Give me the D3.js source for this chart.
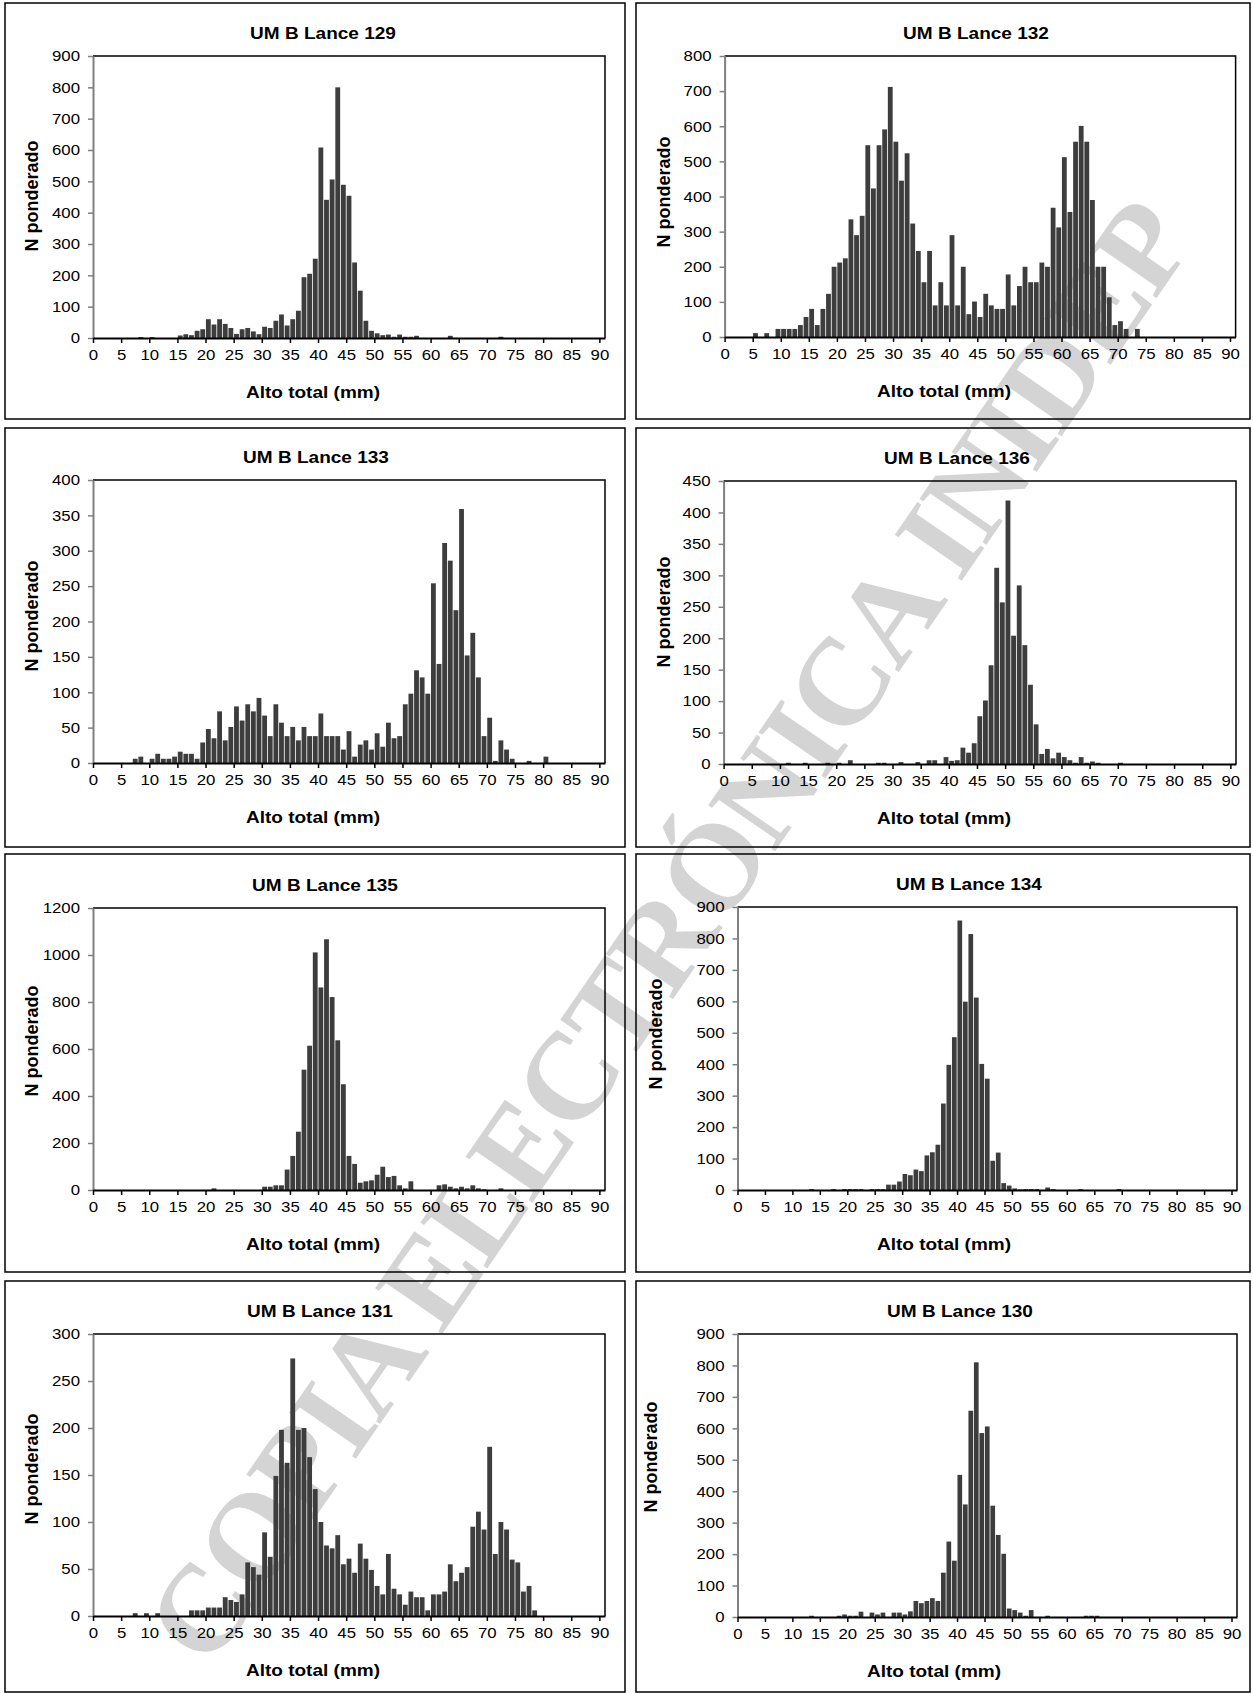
<!DOCTYPE html>
<html>
<head>
<meta charset="utf-8">
<script src="https://cdn.jsdelivr.net/npm/d3@7"></script>
<style>
  body { margin: 0; background: #fff; }
  svg { display: block; }
</style>
</head>
<body>
<div id="chart"></div>
<script>
const width = 1253;
const height = 1694;

// N ponderado per 1 mm class of "Alto total", index = mm (0..90)
const lance129 = [
  0,0,0,0,0,0,0,0,3,0,
  3,0,0,0,0,8,12,9,23,28,
  60,43,60,45,32,13,28,32,21,12,
  36,32,55,75,40,60,87,194,205,253,
  608,441,506,800,489,454,241,151,55,23,
  15,9,11,4,11,4,4,7,0,0,
  0,0,0,7,0,0,0,0,0,0,
  0,0,4,0,0,0,0,0,0,0,
  0,0,0,0,0,0,0,0,0,0,0
];
const lance132 = [
  0,0,0,0,0,11,0,11,0,23,
  23,23,23,34,57,80,34,80,123,200,
  212,224,335,290,345,546,423,546,591,712,
  556,445,523,323,245,156,245,90,156,90,
  290,90,200,65,101,57,123,90,80,80,
  178,90,145,200,156,156,212,200,368,312,
  512,356,556,601,556,390,200,200,113,34,
  45,23,0,23,0,0,0,0,0,0,
  0,0,0,0,0,0,0,0,0,0,0
];
const lance133 = [
  0,0,0,0,0,0,0,6,9,0,
  6,13,6,6,9,16,13,13,6,29,
  48,35,73,32,51,80,60,83,73,92,
  67,38,83,57,38,51,32,51,38,38,
  70,38,38,38,19,45,9,26,32,19,
  42,23,57,35,38,83,98,131,121,98,
  254,140,311,286,216,359,152,184,121,38,
  64,3,32,19,6,0,0,3,0,0,
  9,0,0,0,0,0,0,0,0,0,0
];
const lance136 = [
  0,0,0,0,0,0,0,0,0,0,
  0,2,0,0,2,0,0,0,2,0,
  2,0,6,0,0,0,0,2,2,0,
  0,3,0,0,3,0,6,6,0,11,
  5,6,26,18,33,76,101,157,312,257,
  419,204,284,189,126,63,16,24,9,18,
  11,6,2,11,2,4,2,0,0,0,
  2,0,0,0,0,0,0,0,0,0,
  0,0,0,0,0,0,0,0,0,0,0
];
const lance135 = [
  0,0,0,0,0,0,0,0,0,0,
  0,0,0,0,0,0,0,0,0,0,
  0,7,0,0,0,0,0,0,0,0,
  14,14,20,20,87,145,248,512,614,1011,
  862,1067,821,637,450,145,111,31,37,41,
  65,99,55,60,20,7,37,0,0,0,
  0,20,24,14,7,14,7,20,7,3,
  0,0,7,0,0,0,0,0,0,0,
  0,0,0,0,0,0,0,0,0,0,0
];
const lance134 = [
  0,0,0,0,0,0,0,0,0,0,
  0,0,0,3,0,0,0,3,0,3,
  3,3,3,0,3,3,3,17,17,27,
  51,47,65,60,110,120,144,275,398,486,
  857,599,814,612,401,354,93,119,22,14,
  5,2,3,3,3,0,8,3,0,0,
  0,0,3,0,0,0,0,0,0,3,
  0,0,0,0,0,0,0,0,0,0,
  0,0,0,0,0,0,0,0,0,0,0
];
const lance131 = [
  0,0,0,0,0,0,0,3,0,3,
  0,3,0,0,0,0,0,6,6,6,
  9,9,9,20,17,15,23,57,52,44,
  89,63,149,198,163,274,198,200,169,135,
  100,75,72,86,55,61,46,77,61,49,
  32,23,66,29,23,12,26,20,20,6,
  23,23,26,55,37,46,52,95,111,92,
  180,66,100,92,60,57,26,32,6,0,
  0,0,0,0,0,0,0,0,0,0,0
];
const lance130 = [
  0,0,0,0,0,0,0,0,0,0,
  0,0,0,4,0,0,0,0,4,8,
  4,4,17,0,14,8,14,0,14,14,
  8,18,51,44,51,60,51,141,240,179,
  452,358,656,810,585,606,354,261,201,27,
  22,14,4,22,0,0,4,0,0,0,
  0,0,0,4,4,4,0,0,0,0,
  0,0,0,0,0,0,0,0,0,0,
  0,0,0,0,0,0,0,0,0,0,0
];

const titles = ["UM B Lance 129", "UM B Lance 132", "UM B Lance 133", "UM B Lance 136",
                "UM B Lance 135", "UM B Lance 134", "UM B Lance 131", "UM B Lance 130"];
const series = [lance129, lance132, lance133, lance136, lance135, lance134, lance131, lance130];
const yMaxes = [900, 800, 400, 450, 1200, 900, 300, 900];
const ySteps = [100, 100, 50, 50, 200, 100, 50, 100];
const xTicks = d3.range(0, 91, 5);

const xLabel = "Alto total (mm)";
const yLabel = "N ponderado";
const watermark = "COPIA ELECTRÓNICA INIDEP";

// layout of each panel: frame box, plot area, label anchors
const layout = [
  { box: [5, 3, 620, 416],    plot: [93, 56, 605, 338],      titleX: 323, yt: [32, 196],   xtX: 313 },
  { box: [636, 3, 614, 416],  plot: [724.6, 56, 1235.6, 337], titleX: 976, yt: [664, 192],  xtX: 944 },
  { box: [5, 428, 620, 419],  plot: [93, 480, 605, 763],     titleX: 316, yt: [32, 616],   xtX: 313 },
  { box: [636, 428, 614, 419],plot: [723.6, 481, 1236, 764], titleX: 957, yt: [664, 612],  xtX: 944 },
  { box: [5, 854, 620, 418],  plot: [93, 908, 605, 1190],    titleX: 325, yt: [32, 1041],  xtX: 313 },
  { box: [636, 854, 614, 418],plot: [737.5, 907, 1237, 1190],titleX: 969, yt: [656, 1034], xtX: 944 },
  { box: [5, 1281, 620, 411], plot: [93, 1334, 605, 1616],   titleX: 320, yt: [32, 1469],  xtX: 313 },
  { box: [636, 1281, 614, 411],plot: [737.5, 1334, 1237, 1617],titleX: 960, yt: [651, 1457], xtX: 934 }
];

const font = "'Liberation Sans', Arial, sans-serif";
const stretch = 1.12;

const svg = d3.select("#chart")
    .append("svg")
    .attr("width", width)
    .attr("height", height)
    .style("background", "#fff");

// watermark sits under the charts
svg.append("text")
    .attr("transform", "translate(668,930) rotate(-55.4)")
    .attr("text-anchor", "middle")
    .attr("dy", "0.35em")
    .attr("font-family", "'Liberation Serif', 'Times New Roman', serif")
    .attr("font-size", 124)
    .attr("font-weight", "bold")
    .attr("textLength", 1740)
    .attr("lengthAdjust", "spacing")
    .attr("fill", "#d4d4d4")
    .text(watermark);

function label(g, x, y, str, size, weight, anchor) {
    g.append("text")
        .attr("transform", `translate(${x},${y}) scale(${stretch},1)`)
        .attr("text-anchor", anchor || "middle")
        .attr("font-family", font)
        .attr("font-size", size)
        .attr("font-weight", weight || "normal")
        .attr("fill", "#000")
        .text(str);
}

series.forEach((values, i) => {
    const L = layout[i];
    const [left, top, right, bottom] = L.plot;
    const g = svg.append("g");

    // panel frame
    g.append("rect")
        .attr("x", L.box[0]).attr("y", L.box[1])
        .attr("width", L.box[2]).attr("height", L.box[3])
        .attr("fill", "none")
        .attr("stroke", "#000")
        .attr("stroke-width", 1.5);

    const x = d3.scaleLinear().domain([0, 91]).range([left, right]);
    const y = d3.scaleLinear().domain([0, yMaxes[i]]).range([bottom, top]);

    // bars, one per mm class
    g.append("g").selectAll("rect")
        .data(values.map((v, k) => ({ mm: k, v })).filter(d => d.v > 0))
        .enter().append("rect")
        .attr("x", d => x(d.mm) + 0.4)
        .attr("width", d => x(d.mm + 1) - x(d.mm) - 0.8)
        .attr("y", d => y(d.v))
        .attr("height", d => y(0) - y(d.v))
        .attr("fill", "#3d3d3d");

    // plot area top/right border
    g.append("path")
        .attr("d", `M${left},${top}H${right}V${bottom}`)
        .attr("fill", "none")
        .attr("stroke", "#000")
        .attr("stroke-width", 1.5);

    // y axis
    const yAxis = g.append("g")
        .attr("transform", `translate(${left},0)`)
        .call(d3.axisLeft(y)
            .tickValues(d3.range(0, yMaxes[i] + 1, ySteps[i]))
            .tickFormat(d3.format("d"))
            .tickSizeInner(5).tickSizeOuter(0).tickPadding(8));
    yAxis.select(".domain").attr("stroke", "#808080").attr("stroke-width", 2);
    yAxis.selectAll(".tick line").attr("stroke", "#808080").attr("stroke-width", 1.5);
    yAxis.selectAll(".tick text")
        .attr("font-family", font).attr("font-size", 15).attr("fill", "#000")
        .attr("transform", `scale(${stretch},1)`)
        .attr("x", -13 / stretch);

    // x axis
    const xAxis = g.append("g")
        .attr("transform", `translate(0,${bottom})`)
        .call(d3.axisBottom(x)
            .tickValues(xTicks)
            .tickFormat(d3.format("d"))
            .tickSizeInner(5).tickSizeOuter(0).tickPadding(6));
    xAxis.select(".domain").attr("stroke", "#000").attr("stroke-width", 2);
    xAxis.selectAll(".tick line").attr("stroke", "#000").attr("stroke-width", 1.5);
    xAxis.selectAll(".tick text")
        .attr("font-family", font).attr("font-size", 15).attr("fill", "#000")
        .attr("transform", `scale(${stretch},1)`);

    // titles
    label(g, L.titleX, top - 17, titles[i], 17, "bold");
    label(g, L.xtX, bottom + 60, xLabel, 17, "bold");

    g.append("text")
        .attr("transform", `translate(${L.yt[0]},${L.yt[1]}) rotate(-90)`)
        .attr("text-anchor", "middle")
        .attr("dy", "0.35em")
        .attr("font-family", font)
        .attr("font-size", 18)
        .attr("font-weight", "bold")
        .attr("fill", "#000")
        .text(yLabel);
});
</script>
</body>
</html>
